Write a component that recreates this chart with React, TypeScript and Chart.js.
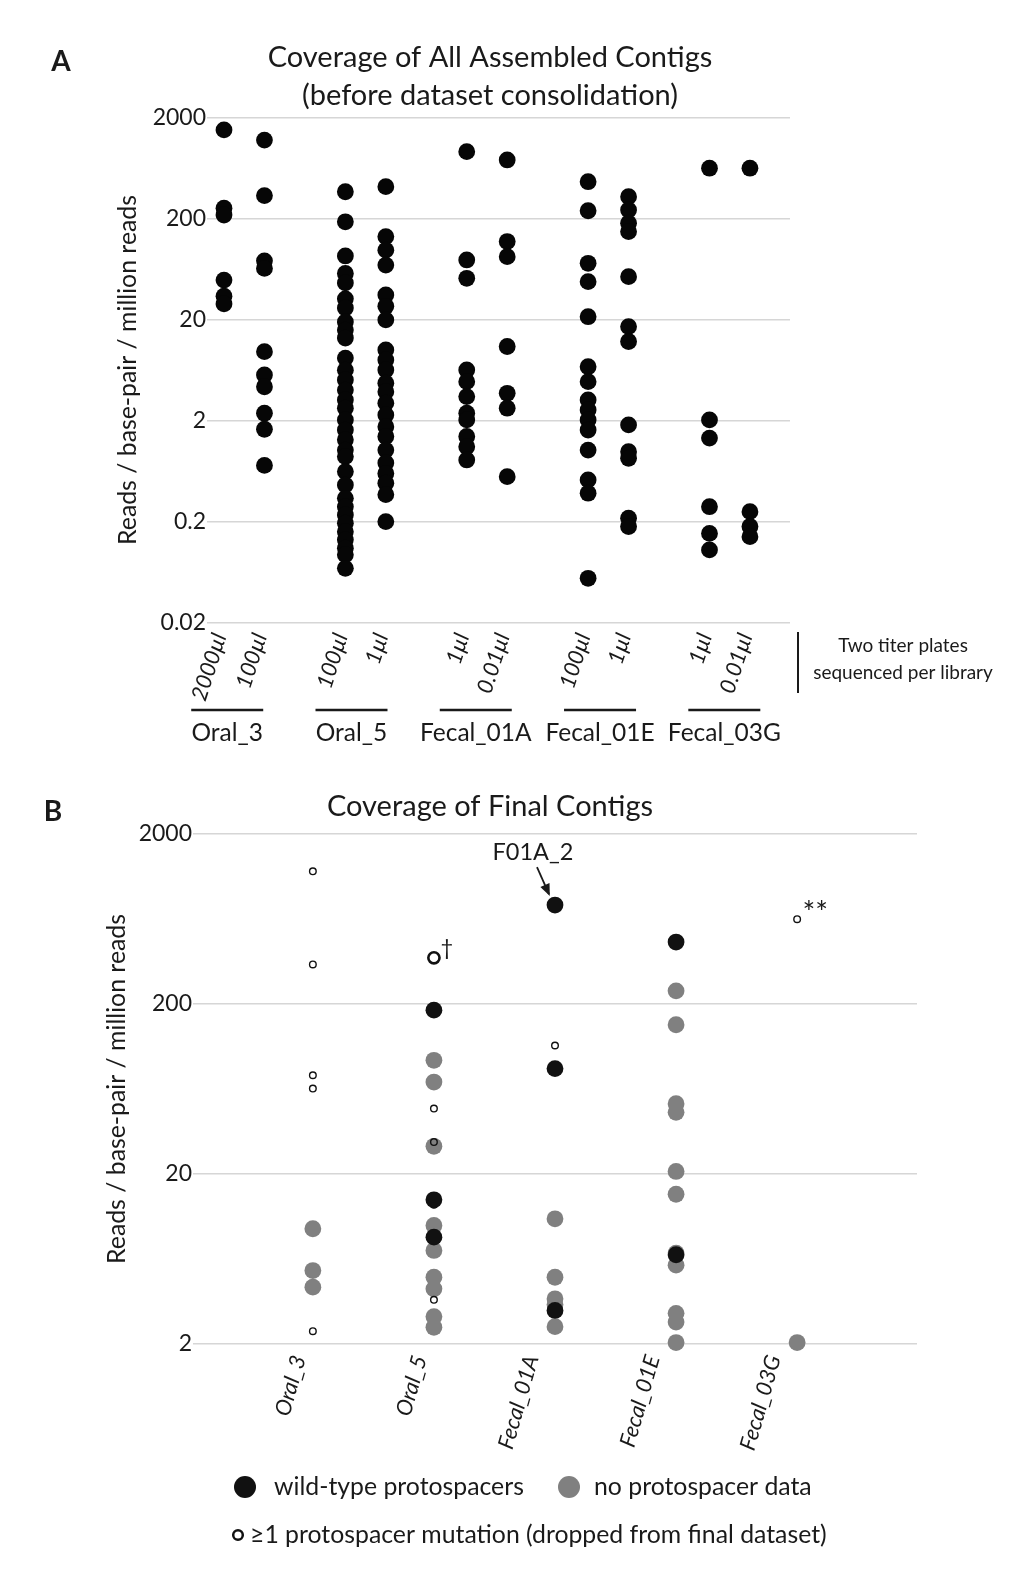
import { useEffect, useRef } from "react";
import { Chart, registerables } from "chart.js";
Chart.register(...registerables);

const FONT = "Lato";
const INK = "#1a1a1a";

// ---------------- Panel A data ----------------
const titleA = ["Coverage of All Assembled Contigs", "(before dataset consolidation)"];
const groupsA = ["Oral_3", "Oral_5", "Fecal_01A", "Fecal_01E", "Fecal_03G"];
const platesA = [
  ["2000µl", "100µl"],
  ["100µl", "1µl"],
  ["1µl", "0.01µl"],
  ["100µl", "1µl"],
  ["1µl", "0.01µl"],
];
const oral3_2000ul = [1500, 252, 216, 49, 34, 28.5];
const oral3_100ul = [1190, 336, 76, 64, 9.6, 5.65, 4.32, 2.36, 1.64, 0.72];
const oral5_100ul = [367, 185, 85, 57, 46, 32, 26, 18.9, 15.7, 13.1, 8.3, 6.3, 5.05, 4.0, 3.2, 2.65, 2.03, 1.61, 1.29, 1.02, 0.88, 0.625, 0.46, 0.34, 0.28, 0.233, 0.193, 0.159, 0.132, 0.109, 0.094, 0.069];
const oral5_1ul = [412, 132, 97, 69, 35, 27, 19.8, 10, 7.95, 6.33, 4.68, 3.86, 2.97, 2.27, 1.74, 1.39, 1.02, 0.76, 0.6, 0.48, 0.37, 0.2];
const fecal01A_1ul = [914, 77.6, 51.1, 6.33, 4.85, 3.45, 2.36, 2.03, 1.39, 1.1, 0.815];
const fecal01A_001ul = [757, 118, 83.6, 10.8, 3.72, 2.65, 0.557];
const fecal01E_100ul = [461, 238, 71.9, 47.3, 21.3, 6.82, 4.85, 3.2, 2.55, 2.03, 1.61, 1.02, 0.517, 0.382, 0.055];
const fecal01E_1ul = [328, 242, 179, 148, 53, 17.0, 12.1, 1.81, 0.984, 0.847, 0.216, 0.179];
const fecal03G_1ul = [627, 2.03, 1.34, 0.281, 0.153, 0.105];
const fecal03G_001ul = [627, 0.251, 0.179, 0.142];
const columnsA = [
  [oral3_2000ul, oral3_100ul],
  [oral5_100ul, oral5_1ul],
  [fecal01A_1ul, fecal01A_001ul],
  [fecal01E_100ul, fecal01E_1ul],
  [fecal03G_1ul, fecal03G_001ul],
];
const yTicksA = [0.02, 0.2, 2, 20, 200, 2000];
const noteA = ["Two titer plates", "sequenced per library"];

// ---------------- Panel B data ----------------
const titleB = "Coverage of Final Contigs";
const categoriesB = ["Oral_3", "Oral_5", "Fecal_01A", "Fecal_01E", "Fecal_03G"];
const wildTypeB = [[], [184, 14.1, 8.5], [764, 83.4, 3.15], [463, 6.7], []];
const noDataB = [
  [9.53, 5.41, 4.32],
  [93.3, 69.5, 29.1, 9.96, 7.1, 4.94, 4.22, 2.9, 2.51],
  [10.9, 4.94, 3.69, 3.41, 2.53],
  [239, 151, 51.8, 46.1, 20.7, 15.2, 6.85, 5.82, 3.03, 2.69, 2.04],
  [2.04],
];
const mutationB = [[1206, 342, 76.2, 63.6, 2.38], [48.5, 30.8, 13.2, 3.64], [114], [], [631]];
const daggerB = [[], [374], [], [], []];
const yTicksB = [2, 20, 200, 2000];
const legendB = ["wild-type protospacers", "no protospacer data", "≥1 protospacer mutation (dropped from final dataset)"];

function rotText(ctx: CanvasRenderingContext2D, text: string, x: number, y: number, deg: number, font: string) {
  ctx.save();
  ctx.translate(x, y);
  ctx.rotate((deg * Math.PI) / 180);
  ctx.font = font;
  ctx.textAlign = "right";
  ctx.textBaseline = "middle";
  ctx.fillText(text, 0, 0);
  ctx.restore();
}

const panelAPlugin = {
  id: "panelA",
  afterDraw(chart: any) {
    const ctx: CanvasRenderingContext2D = chart.ctx;
    const xs = chart.scales.x;
    ctx.save();
    ctx.fillStyle = INK;
    ctx.strokeStyle = INK;
    ctx.textAlign = "center";
    ctx.textBaseline = "middle";
    ctx.font = `bold 28px ${FONT}`;
    ctx.fillText("A", 53, 54);
    ctx.font = `29px ${FONT}`;
    ctx.fillText(titleA[0], 482, 50);
    ctx.fillText(titleA[1], 482, 88);
    groupsA.forEach((g, gi) => {
      const p0 = xs.getPixelForValue(gi * 3);
      const p1 = xs.getPixelForValue(gi * 3 + 1);
      platesA[gi].forEach((lab, pi) => {
        rotText(ctx, lab, (pi ? p1 : p0) - 4, 626, -72, `italic 22px ${FONT}`);
      });
      const c = (p0 + p1) / 2 - 17 + 2.9 * gi;
      ctx.lineWidth = 2.5;
      ctx.beginPath();
      ctx.moveTo(c - 36, 702);
      ctx.lineTo(c + 36, 702);
      ctx.stroke();
      ctx.font = `24.5px ${FONT}`;
      ctx.textAlign = "center";
      ctx.textBaseline = "middle";
      ctx.fillText(g, c, 725);
    });
    ctx.lineWidth = 2;
    ctx.beginPath();
    ctx.moveTo(790, 624);
    ctx.lineTo(790, 685);
    ctx.stroke();
    ctx.font = `19px ${FONT}`;
    ctx.fillText(noteA[0], 895, 638);
    ctx.fillText(noteA[1], 895, 665);
    ctx.restore();
  },
};

const panelBPlugin = {
  id: "panelB",
  afterDraw(chart: any) {
    const ctx: CanvasRenderingContext2D = chart.ctx;
    const xs = chart.scales.x;
    const ys = chart.scales.y;
    ctx.save();
    ctx.fillStyle = INK;
    ctx.strokeStyle = INK;
    ctx.textAlign = "center";
    ctx.textBaseline = "middle";
    ctx.font = `bold 28px ${FONT}`;
    ctx.fillText("B", 45, 44);
    ctx.font = `29px ${FONT}`;
    ctx.fillText(titleB, 482, 39);
    categoriesB.forEach((c, i) => {
      const px = xs.getPixelForValue(i);
      rotText(ctx, c, px - 13.7 - (c.length - 6) * 3.1, 588, -74, `italic 22px ${FONT}`);
    });
    // F01A_2 annotation
    const fx = xs.getPixelForValue(2);
    const fy = ys.getPixelForValue(wildTypeB[2][0]);
    ctx.font = `23.5px ${FONT}`;
    ctx.textAlign = "center";
    ctx.fillText("F01A_2", fx - 22, fy - 53);
    const ax0 = fx - 18, ay0 = fy - 38, ax1 = fx - 6, ay1 = fy - 11;
    ctx.lineWidth = 1.8;
    ctx.beginPath();
    ctx.moveTo(ax0, ay0);
    ctx.lineTo(ax1, ay1);
    ctx.stroke();
    const ang = Math.atan2(ay1 - ay0, ax1 - ax0);
    ctx.beginPath();
    ctx.moveTo(ax1 + 2 * Math.cos(ang), ay1 + 2 * Math.sin(ang));
    ctx.lineTo(ax1 - 10 * Math.cos(ang) + 5 * Math.sin(ang), ay1 - 10 * Math.sin(ang) - 5 * Math.cos(ang));
    ctx.lineTo(ax1 - 10 * Math.cos(ang) - 5 * Math.sin(ang), ay1 - 10 * Math.sin(ang) + 5 * Math.cos(ang));
    ctx.closePath();
    ctx.fill();
    // dagger
    const dx = xs.getPixelForValue(1);
    const dy = ys.getPixelForValue(daggerB[1][0]);
    ctx.font = `22px ${FONT}`;
    ctx.fillText("†", dx + 13, dy - 10);
    // double asterisk
    const sx = xs.getPixelForValue(4);
    const sy = ys.getPixelForValue(mutationB[4][0]);
    ctx.font = `30px ${FONT}`;
    ctx.fillText("**", sx + 18, sy - 6);
    // legend
    ctx.fillStyle = "#111111";
    ctx.beginPath();
    ctx.arc(237, 719, 11, 0, Math.PI * 2);
    ctx.fill();
    ctx.fillStyle = "#808080";
    ctx.beginPath();
    ctx.arc(561, 719, 11, 0, Math.PI * 2);
    ctx.fill();
    ctx.lineWidth = 2.5;
    ctx.strokeStyle = "#111111";
    ctx.beginPath();
    ctx.arc(230, 767, 4.8, 0, Math.PI * 2);
    ctx.stroke();
    ctx.fillStyle = INK;
    ctx.font = `24.8px ${FONT}`;
    ctx.textAlign = "left";
    ctx.fillText(legendB[0], 266, 719);
    ctx.fillText(legendB[1], 586, 719);
    ctx.fillText(legendB[2], 242, 767);
    ctx.restore();
  },
};

function yAxis(ticks: number[], min: number, max: number, width: number, titlePad: number) {
  return {
    type: "logarithmic",
    min,
    max,
    bounds: "data",
    afterBuildTicks: (s: any) => {
      s.ticks = ticks.map((v) => ({ value: v }));
    },
    afterFit: (s: any) => {
      s.width = width;
    },
    ticks: {
      autoSkip: false,
      padding: 1,
      color: INK,
      font: { family: FONT, size: 23 },
      callback: (v: any) => String(v),
    },
    grid: { color: "#d6d6d6", lineWidth: 1.5, drawTicks: false },
    border: { display: false },
    title: {
      display: true,
      text: "Reads / base-pair / million reads",
      color: INK,
      font: { family: FONT, size: 24.8, lineHeight: 1.2 },
      padding: { top: titlePad, bottom: 0 },
    },
  };
}

export default function App() {
  const refA = useRef<HTMLCanvasElement>(null);
  const refB = useRef<HTMLCanvasElement>(null);

  useEffect(() => {
    const dataA = columnsA.flatMap((pair, gi) =>
      pair.flatMap((vals, pi) => vals.map((v) => ({ x: gi * 3 + pi, y: v })))
    );
    const chartA = new Chart(refA.current as HTMLCanvasElement, {
      type: "scatter",
      data: {
        datasets: [
          {
            data: dataA,
            backgroundColor: "#060606",
            borderWidth: 0,
            pointRadius: 8.4,
            pointHoverRadius: 8.4,
            clip: false,
          } as any,
        ],
      },
      options: {
        animation: false,
        responsive: false,
        maintainAspectRatio: false,
        devicePixelRatio: 1,
        layout: { padding: { left: 0, top: 109.3, right: 225, bottom: 145.3 } },
        plugins: { legend: { display: false }, tooltip: { enabled: false } },
        scales: {
          x: { type: "linear", min: -0.42, max: 13.99, display: false },
          y: yAxis(yTicksA, 0.02, 2000, 199, 105.1) as any,
        },
      },
      plugins: [panelAPlugin],
    });

    const toPts = (arr: number[][]) => arr.flatMap((vals, i) => vals.map((v) => ({ x: i, y: v })));
    const chartB = new Chart(refB.current as HTMLCanvasElement, {
      type: "scatter",
      data: {
        datasets: [
          {
            label: "mutation",
            data: toPts(mutationB),
            backgroundColor: "rgba(0,0,0,0)",
            borderColor: "#111111",
            borderWidth: 1.4,
            pointRadius: 3.3,
            order: 0,
            clip: false,
          } as any,
          {
            label: "mutation-dagger",
            data: toPts(daggerB),
            backgroundColor: "rgba(0,0,0,0)",
            borderColor: "#111111",
            borderWidth: 2.6,
            pointRadius: 5.6,
            order: 0,
            clip: false,
          } as any,
          {
            label: "wild",
            data: toPts(wildTypeB),
            backgroundColor: "#111111",
            borderWidth: 0,
            pointRadius: 8.4,
            order: 1,
            clip: false,
          } as any,
          {
            label: "nodata",
            data: toPts(noDataB),
            backgroundColor: "#808080",
            borderWidth: 0,
            pointRadius: 8.4,
            order: 2,
            clip: false,
          } as any,
        ],
      },
      options: {
        animation: false,
        responsive: false,
        maintainAspectRatio: false,
        devicePixelRatio: 1,
        layout: { padding: { left: 0, top: 66, right: 98, bottom: 227 } },
        plugins: { legend: { display: false }, tooltip: { enabled: false } },
        scales: {
          x: { type: "linear", min: -0.99, max: 4.99, display: false },
          y: yAxis(yTicksB, 2, 2000, 185, 94.1) as any,
        },
      },
      plugins: [panelBPlugin],
    });

    return () => {
      chartA.destroy();
      chartB.destroy();
    };
  }, []);

  return (
    <div style={{ position: "relative", width: 1007, height: 1563, background: "#fff" }}>
      <canvas ref={refA} width={1007} height={760} style={{ position: "absolute", left: 0, top: 0, display: "block" }} />
      <canvas ref={refB} width={1007} height={803} style={{ position: "absolute", left: 0, top: 760, display: "block" }} />
    </div>
  );
}
